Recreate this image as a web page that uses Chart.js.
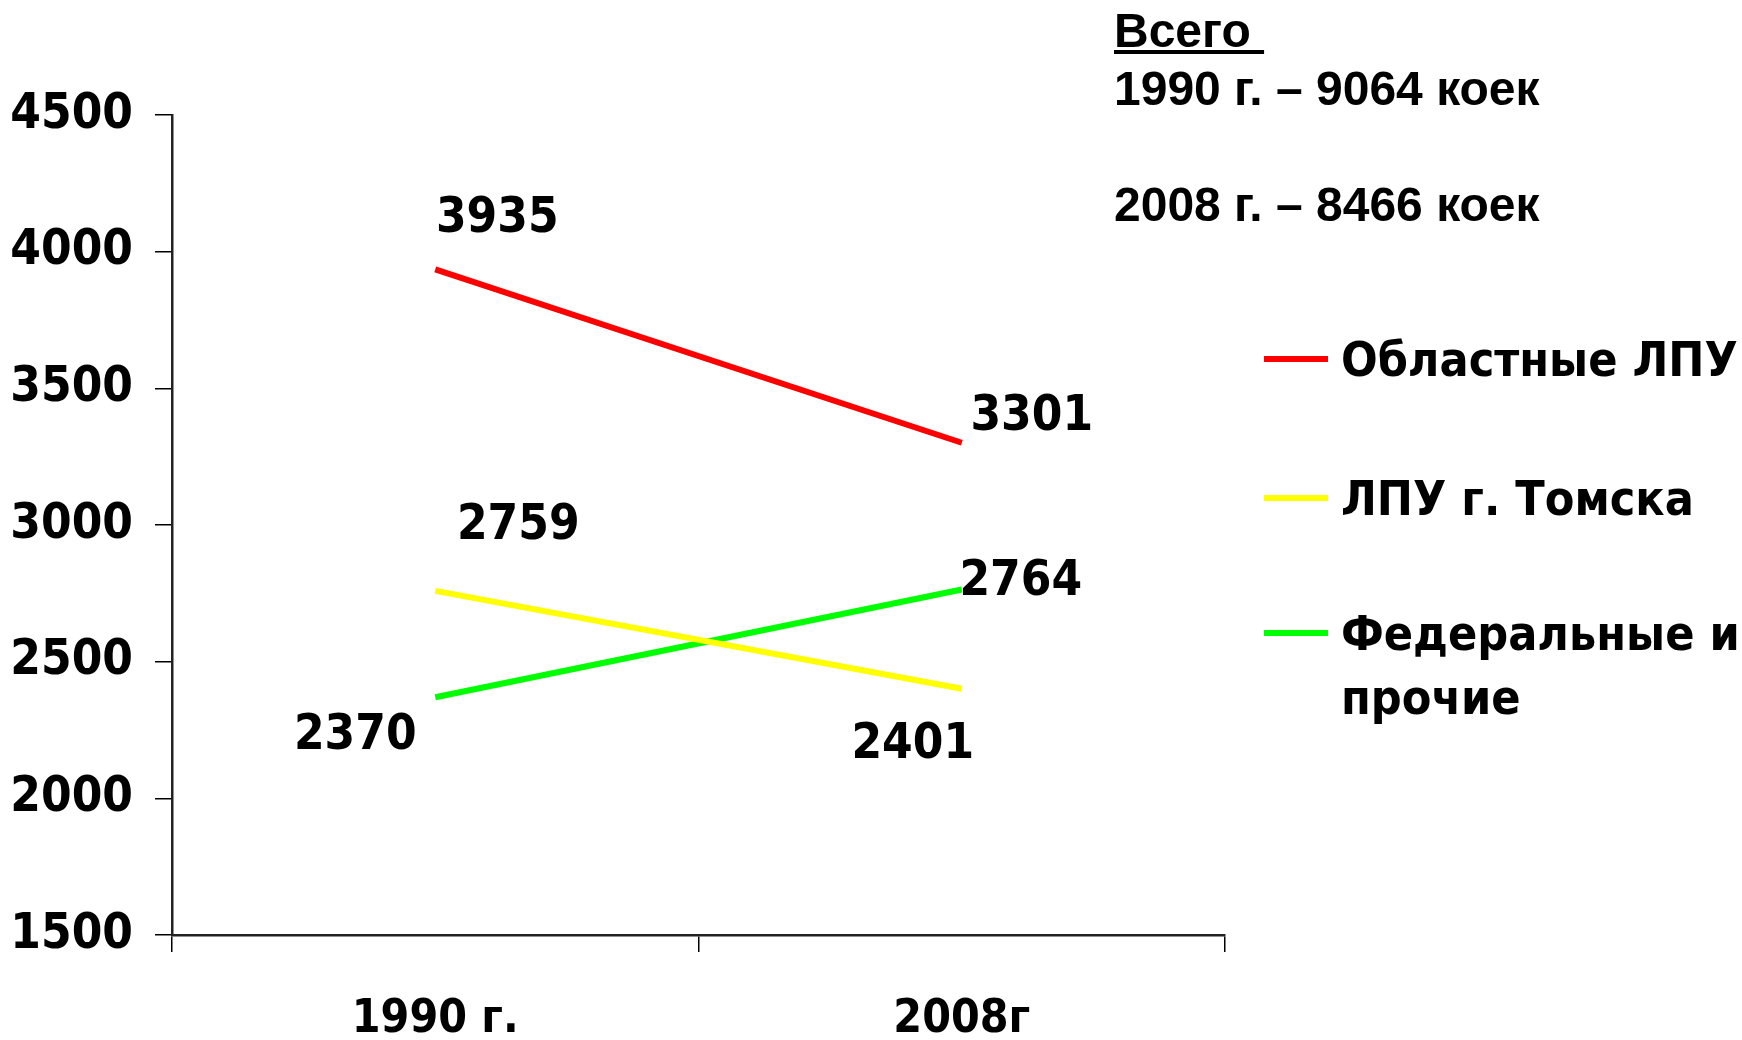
<!DOCTYPE html>
<html>
<head>
<meta charset="utf-8">
<script src="https://cdn.jsdelivr.net/npm/chart.js@4/dist/chart.umd.min.js"></script>
<style>
  html, body { margin: 0; padding: 0; background: #fff; }
  #wrap { position: relative; width: 1742px; height: 1040px; }
  #chart { position: absolute; left: 0; top: 0; }
  .note {
    position: absolute; left: 1114px;
    font-family: "Liberation Sans", Arial, sans-serif; font-weight: bold;
    font-size: 48px; color: #000; white-space: nowrap; line-height: 1;
  }
  .leg { position: absolute; left: 1264px; }
  .leg .sw { position: absolute; left: 0; width: 64px; height: 6px; }
  .leg .txt {
    position: absolute; left: 77px; white-space: nowrap;
    font-family: "DejaVu Sans Condensed", "DejaVu Sans", sans-serif; font-weight: bold;
    font-size: 48px; line-height: 64px; color: #000;
  }
</style>
</head>
<body>
<div id="wrap">
  <canvas id="chart" width="1742" height="1040"></canvas>
  <div class="note" style="top:7px;"><span style="text-decoration: underline;">Всего&nbsp;</span></div>
  <div class="note" style="top:65px;">1990 г. – 9064 коек</div>
  <div class="note" style="top:181px;">2008 г. – 8466 коек</div>
  <div id="legend"></div>
</div>
<script>
// data
const years = ["1990 г.", "2008г"];
const seriesNames = ["Областные ЛПУ", "ЛПУ г. Томска", "Федеральные и прочие"];
const regional = [3935, 3301];
const tomsk = [2759, 2401];
const federal = [2370, 2764];
const yTicks = [1500, 2000, 2500, 3000, 3500, 4000, 4500];

const colors = ["#ff0000", "#ffff00", "#00ff00"];
const fontFamily = '"DejaVu Sans Condensed", "DejaVu Sans", sans-serif';

// where each value label sits relative to its point
const labelOffsets = [
  [[62, -50], [70, -25]],
  [[83, -65], [-49, 57]],
  [[-80, 39], [59, -7]],
];

const valueLabels = {
  id: "valueLabels",
  afterDatasetsDraw(chart) {
    const ctx = chart.ctx;
    const xs = chart.scales.x;
    const ys = chart.scales.y;
    ctx.save();
    ctx.font = "bold 49px " + fontFamily;
    ctx.fillStyle = "#000";
    ctx.textAlign = "center";
    ctx.textBaseline = "middle";
    chart.data.datasets.forEach((ds, i) => {
      ds.data.forEach((v, j) => {
        const x = xs.getPixelForValue(j) + labelOffsets[i][j][0];
        const y = ys.getPixelForValue(v) + labelOffsets[i][j][1];
        ctx.fillText(String(v), x, y);
      });
    });
    ctx.restore();
  }
};

const ctx = document.getElementById("chart").getContext("2d");
new Chart(ctx, {
  type: "line",
  data: {
    labels: years,
    datasets: [
      { label: seriesNames[0], data: regional, borderColor: colors[0] },
      { label: seriesNames[1], data: tomsk, borderColor: colors[1] },
      { label: seriesNames[2], data: federal, borderColor: colors[2] },
    ].map(d => Object.assign(d, { borderWidth: 6, pointRadius: 0, tension: 0, fill: false })),
  },
  options: {
    responsive: false,
    animation: false,
    layout: { padding: { top: 115, right: 517, bottom: 0, left: 0 } },
    plugins: { legend: { display: false }, tooltip: { enabled: false } },
    scales: {
      x: {
        offset: true,
        grid: { offset: true, drawOnChartArea: false, tickLength: 17, color: "#000", lineWidth: 1.5 },
        border: { color: "#222", width: 2.5 },
        ticks: { color: "#000", padding: 40, font: { family: fontFamily, weight: "bold", size: 46 } },
        afterFit(scale) { scale.height = 105; },
      },
      y: {
        min: 1500,
        max: 4500,
        afterBuildTicks(scale) { scale.ticks = yTicks.map(v => ({ value: v })); },
        grid: { drawOnChartArea: false, tickLength: 17, color: "#000", lineWidth: 1.5 },
        border: { color: "#222", width: 2.5 },
        ticks: {
          color: "#000", padding: 22,
          font: { family: fontFamily, weight: "bold", size: 49 },
          callback: v => String(v),
        },
        afterFit(scale) { scale.width = 172; },
      },
    },
  },
  plugins: [valueLabels],
});

// legend
const legendRows = [
  { top: 359, lines: ["Областные ЛПУ"] },
  { top: 498, lines: ["ЛПУ г. Томска"] },
  { top: 633, lines: ["Федеральные и", "прочие"] },
];
const legendBox = document.getElementById("legend");
legendRows.forEach((row, i) => {
  const el = document.createElement("div");
  el.className = "leg";
  el.style.top = row.top + "px";
  el.innerHTML = '<div class="sw" style="top:-3px;background:' + colors[i] + '"></div>' +
    '<div class="txt" style="top:-32px;">' + row.lines.join("<br>") + "</div>";
  legendBox.appendChild(el);
});
</script>
</body>
</html>
